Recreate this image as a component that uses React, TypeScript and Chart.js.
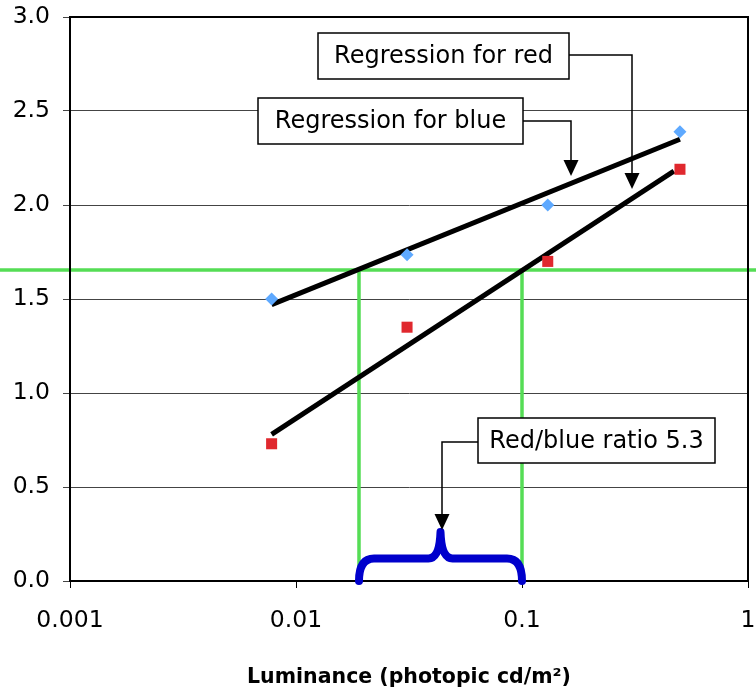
import React, { useEffect, useRef } from "react";
import { Chart, registerables } from "chart.js";
Chart.register(...registerables);

// Measured points
const blueX = [0.0078, 0.031, 0.13, 0.5];
const blueY = [1.5, 1.735, 2.0, 2.39];
const redX = [0.0078, 0.031, 0.13, 0.5];
const redY = [0.73, 1.35, 1.7, 2.19];
// Regression lines (end points)
const blueFitX = [0.0078, 0.5];
const blueFitY = [1.47, 2.35];
const redFitX = [0.0078, 0.47];
const redFitY = [0.78, 2.18];
// Axes
const xTicks = [0.001, 0.01, 0.1, 1];
const yTickStep = 0.5;
// Criterion line and crossings
const threshold = 1.654;
const crossX = [0.019, 0.1];
const braceFlatY = 0.12;
const bracePeakY = 0.26;
// Labels
const xTitle = "Luminance (photopic cd/m\u00B2)";
const noteTexts = ["Regression for red", "Regression for blue", "Red/blue ratio 5.3"];

const FONT = "'DejaVu Sans', Verdana, sans-serif";

const noteLayout = [
  { box: [318, 33, 569, 79], path: [[569, 55], [632, 55], [632, 189]] },
  { box: [258, 98, 523, 144], path: [[523, 121], [571, 121], [571, 176]] },
  { box: [478, 418, 715, 463], path: [[478, 442], [442, 442], [442, 530]] },
];

const overlay = {
  id: "overlay",
  beforeDatasetsDraw(chart: any) {
    const { ctx, scales } = chart;
    const x = scales.x, y = scales.y;
    ctx.save();
    ctx.strokeStyle = "#55dd55";
    ctx.lineWidth = 3.5;
    const yT = y.getPixelForValue(threshold);
    const y0 = y.getPixelForValue(0);
    ctx.beginPath();
    ctx.moveTo(0, yT);
    ctx.lineTo(chart.width, yT);
    for (const cx of crossX) {
      const px = x.getPixelForValue(cx);
      ctx.moveTo(px, yT);
      ctx.lineTo(px, y0);
    }
    ctx.stroke();
    ctx.restore();
  },
  afterDatasetsDraw(chart: any) {
    const { ctx, scales, chartArea } = chart;
    const x = scales.x, y = scales.y;
    ctx.save();
    // frame
    ctx.strokeStyle = "#000";
    ctx.lineWidth = 2;
    ctx.strokeRect(chartArea.left, chartArea.top, chartArea.right - chartArea.left, chartArea.bottom - chartArea.top);
    // brace
    const xl = x.getPixelForValue(crossX[0]);
    const xr = x.getPixelForValue(crossX[1]);
    const xm = x.getPixelForValue(Math.sqrt(crossX[0] * crossX[1]));
    const yb = y.getPixelForValue(0);
    const yf = y.getPixelForValue(braceFlatY);
    const yp = y.getPixelForValue(bracePeakY);
    ctx.strokeStyle = "#0000cc";
    ctx.lineWidth = 8;
    ctx.lineCap = "round";
    ctx.lineJoin = "round";
    ctx.beginPath();
    ctx.moveTo(xl, yb);
    ctx.quadraticCurveTo(xl, yf, xl + 15, yf);
    ctx.lineTo(xm - 12, yf);
    ctx.quadraticCurveTo(xm - 1, yf, xm, yp);
    ctx.moveTo(xm, yp);
    ctx.quadraticCurveTo(xm + 1, yf, xm + 12, yf);
    ctx.lineTo(xr - 15, yf);
    ctx.quadraticCurveTo(xr, yf, xr, yb);
    ctx.stroke();
    ctx.restore();
  },
  afterDraw(chart: any) {
    const { ctx } = chart;
    ctx.save();
    noteLayout.forEach((n, i) => {
      const [l, t, r, b] = n.box;
      const last = n.path.length - 1;
      // connector
      ctx.strokeStyle = "#000";
      ctx.lineWidth = 1.5;
      ctx.beginPath();
      ctx.moveTo(n.path[0][0], n.path[0][1]);
      for (let k = 1; k <= last; k++) ctx.lineTo(n.path[k][0], n.path[k][1] - (k === last ? 10 : 0));
      ctx.stroke();
      const [tx, ty] = n.path[last];
      ctx.fillStyle = "#000";
      ctx.beginPath();
      ctx.moveTo(tx, ty);
      ctx.lineTo(tx - 7.5, ty - 16);
      ctx.lineTo(tx + 7.5, ty - 16);
      ctx.closePath();
      ctx.fill();
      // box
      ctx.fillStyle = "#fff";
      ctx.fillRect(l, t, r - l, b - t);
      ctx.lineWidth = 1.5;
      ctx.strokeRect(l, t, r - l, b - t);
      ctx.fillStyle = "#000";
      ctx.font = `24px ${FONT}`;
      ctx.textAlign = "center";
      ctx.textBaseline = "middle";
      ctx.fillText(noteTexts[i], (l + r) / 2, (t + b) / 2 + 1);
    });
    ctx.restore();
  },
};

export default function App() {
  const ref = useRef<HTMLCanvasElement>(null);
  useEffect(() => {
    if (!ref.current) return;
    const chart = new Chart(ref.current, {
      type: "scatter",
      data: {
        datasets: [
          {
            label: "Blue fit",
            data: blueFitX.map((v, i) => ({ x: v, y: blueFitY[i] })),
            showLine: true,
            borderColor: "#000",
            borderWidth: 5,
            pointRadius: 0,
            order: 2,
          },
          {
            label: "Red fit",
            data: redFitX.map((v, i) => ({ x: v, y: redFitY[i] })),
            showLine: true,
            borderColor: "#000",
            borderWidth: 5,
            pointRadius: 0,
            order: 2,
          },
          {
            label: "Blue",
            data: blueX.map((v, i) => ({ x: v, y: blueY[i] })),
            pointStyle: "rectRot",
            pointRadius: 6.5,
            backgroundColor: "#5ea9ff",
            borderColor: "#5ea9ff",
            borderWidth: 0,
            order: 1,
          },
          {
            label: "Red",
            data: redX.map((v, i) => ({ x: v, y: redY[i] })),
            pointStyle: "rect",
            pointRadius: 7.8,
            backgroundColor: "#e0282e",
            borderColor: "#e0282e",
            borderWidth: 0,
            order: 1,
          },
        ],
      },
      options: {
        responsive: false,
        animation: false,
        layout: { padding: { top: 17, right: 8, left: 0, bottom: 0 } },
        plugins: { legend: { display: false }, tooltip: { enabled: false } },
        scales: {
          x: {
            type: "logarithmic",
            min: 0.001,
            max: 1,
            afterBuildTicks: (s: any) => {
              s.ticks = xTicks.map((v) => ({ value: v }));
            },
            afterFit: (s: any) => {
              s.height = 109;
              s.paddingLeft = 0;
              s.paddingRight = 0;
            },
            ticks: {
              autoSkip: false,
              maxRotation: 0,
              padding: 19,
              color: "#000",
              font: { family: FONT, size: 23.5 },
              callback: (v: any) => String(v),
            },
            grid: { drawOnChartArea: false, drawTicks: true, tickLength: 7, color: "#000" },
            border: { color: "#000", width: 2 },
            title: {
              display: true,
              text: xTitle,
              color: "#000",
              font: { family: FONT, size: 20.5, weight: "bold" },
              padding: { top: 0, bottom: 0 },
            },
          },
          y: {
            min: 0,
            max: 3,
            afterFit: (s: any) => {
              s.width = 70;
              s.paddingTop = 0;
              s.paddingBottom = 0;
            },
            ticks: {
              stepSize: yTickStep,
              padding: 13,
              color: "#000",
              font: { family: FONT, size: 23.5 },
              callback: (v: any) => Number(v).toFixed(1),
            },
            grid: { color: "#444", lineWidth: 1, tickLength: 7 },
            border: { color: "#000", width: 2 },
          },
        },
      },
      plugins: [overlay],
    });
    return () => chart.destroy();
  }, []);
  return (
    <div style={{ position: "absolute", left: 0, top: 0, width: 756, height: 690, background: "#fff" }}>
      <canvas ref={ref} width={756} height={690} style={{ width: 756, height: 690 }} />
    </div>
  );
}
